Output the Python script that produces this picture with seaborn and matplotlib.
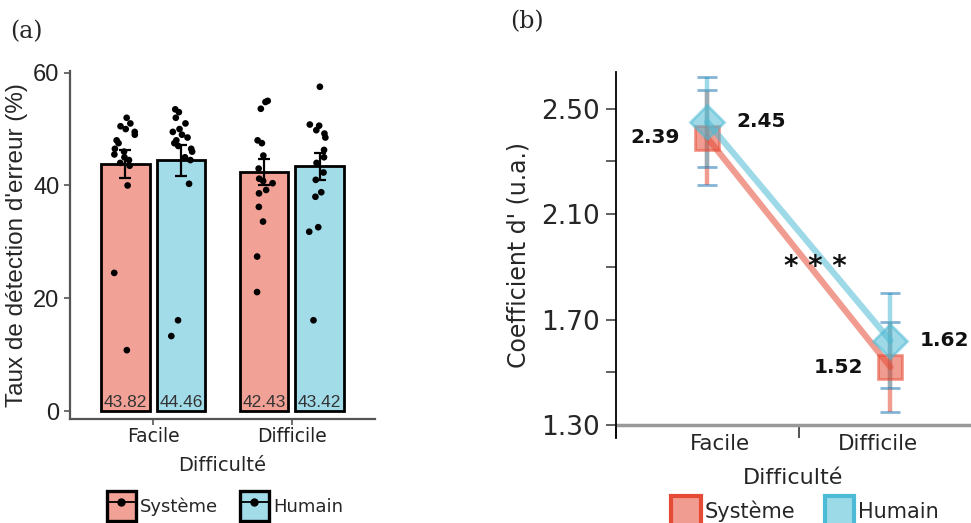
import numpy as np
import pandas as pd
import seaborn as sns
import matplotlib.pyplot as plt
from matplotlib.patches import Patch
from matplotlib.lines import Line2D
from matplotlib.legend_handler import HandlerTuple
from matplotlib.colors import to_rgb

difficultes = ['Facile', 'Difficile']
groupes = ['Système', 'Humain']
couleurs = {'Système': '#E64B35', 'Humain': '#4DBBD5'}

# (a) taux de detection d'erreur (%)
taux_moy_systeme = [43.82, 42.43]
taux_moy_humain = [44.46, 43.42]
taux_se_systeme = [2.5, 2.3]
taux_se_humain = [2.8, 2.4]

pts_facile_systeme = [52.0, 51.0, 50.5, 50.0, 49.5, 49.0, 48.0, 47.5, 46.5, 46.0,
                      45.5, 45.0, 44.5, 44.0, 43.5, 40.0, 24.5, 10.8]
pts_facile_humain = [53.5, 53.0, 52.0, 51.0, 50.0, 49.5, 49.0, 48.5, 48.0, 47.5,
                     47.0, 46.5, 46.0, 45.0, 44.5, 40.3, 16.1, 13.3]
pts_difficile_systeme = [55.0, 54.8, 53.6, 48.0, 47.5, 45.3, 43.0, 41.2, 40.8, 40.4,
                         39.2, 38.6, 36.2, 33.6, 27.4, 21.1]
pts_difficile_humain = [57.5, 50.8, 50.6, 49.8, 49.2, 48.5, 46.3, 45.0, 44.0, 42.3,
                        41.0, 38.8, 38.0, 32.6, 31.8, 16.1]

# (b) coefficient d'
dprime_systeme = [2.39, 1.52]
dprime_humain = [2.45, 1.62]
dprime_se_systeme = [0.18, 0.17]
dprime_se_humain = [0.17, 0.18]


def pale(c, a=0.55):
    r = np.array(to_rgb(c))
    return tuple(a * r + (1 - a))


def main():
  sns.set_style('ticks')
  plt.rcParams['font.family'] = ['DejaVu Sans']

  df_taux = pd.DataFrame({
      'Difficulté': difficultes * 2,
      'Groupe': [groupes[0]] * 2 + [groupes[1]] * 2,
      'taux': taux_moy_systeme + taux_moy_humain,
      'se': taux_se_systeme + taux_se_humain,
  })
  se_par_moy = dict(zip(df_taux['taux'], df_taux['se']))

  pts = {('Facile', 'Système'): pts_facile_systeme,
         ('Facile', 'Humain'): pts_facile_humain,
         ('Difficile', 'Système'): pts_difficile_systeme,
         ('Difficile', 'Humain'): pts_difficile_humain}
  rows = []
  for (d, g), vals in pts.items():
    for v in vals:
      rows.append({'Difficulté': d, 'Groupe': g, 'taux': v})
  df_pts = pd.DataFrame(rows)

  df_d = pd.DataFrame({
      'Difficulté': difficultes * 2,
      'Groupe': [groupes[0]] * 2 + [groupes[1]] * 2,
      'dprime': dprime_systeme + dprime_humain,
      'se': dprime_se_systeme + dprime_se_humain,
  })

  fig = plt.figure(figsize=(9.71, 5.23), dpi=100)
  ax1 = fig.add_axes([0.0721, 0.1989, 0.3141, 0.6654])
  ax2 = fig.add_axes([0.634, 0.1625, 0.366, 0.6998])

  # ---------- (a)
  sns.barplot(data=df_taux, x='Difficulté', y='taux', hue='Groupe',
              order=difficultes, hue_order=groupes,
              palette={g: pale(couleurs[g], 0.52) for g in groupes}, saturation=1,
              edgecolor='black', linewidth=2, gap=0.12, errorbar=None,
              legend=False, ax=ax1)
  for p in ax1.patches:
    xc = p.get_x() + p.get_width() / 2
    h = p.get_height()
    ax1.errorbar(xc, h, yerr=se_par_moy[round(h, 2)], fmt='none', ecolor='black',
                 elinewidth=1.6, capsize=4.5, capthick=1.6, zorder=3)
    ax1.text(xc, 0.2, f'{h:.2f}', ha='center', va='bottom', fontsize=12.5,
             color='#333333', family='Liberation Sans', zorder=4)
  np.random.seed(3)
  sns.stripplot(data=df_pts, x='Difficulté', y='taux', hue='Groupe',
                order=difficultes, hue_order=groupes, dodge=True, jitter=0.17,
                palette={g: 'black' for g in groupes}, size=4.8, linewidth=0,
                legend=False, zorder=5, ax=ax1)

  ax1.set_xlim(-0.6, 1.6)
  ax1.set_ylim(-1.4, 60.3)
  ax1.set_yticks([0, 20, 40, 60])
  for s in ['top', 'right']:
    ax1.spines[s].set_visible(False)
  for s in ['left', 'bottom']:
    ax1.spines[s].set_color('#555555')
    ax1.spines[s].set_linewidth(1.6)
  ax1.tick_params(axis='both', colors='#555555', length=4, width=1.2)
  ax1.tick_params(axis='y', labelsize=17, labelcolor='#222222')
  ax1.tick_params(axis='x', labelsize=13.5, labelcolor='#222222', pad=2)
  for t in ax1.get_yticklabels():
    t.set_family('Liberation Sans')
  ax1.set_ylabel("Taux de détection d'erreur (%)", fontsize=17.5,
                 family='Liberation Sans', labelpad=4)
  ax1.set_xlabel('Difficulté', fontsize=14, labelpad=7)

  h_a = [(Patch(facecolor=pale(couleurs[g], 0.52), edgecolor='black', linewidth=2.4),
          Line2D([], [], color='black', marker='o', ms=5, lw=1.3)) for g in groupes]
  fig.legend(handles=h_a, labels=groupes,
             handler_map={tuple: HandlerTuple(ndivide=1, pad=0)},
             ncol=2, loc='center', bbox_to_anchor=(225 / 971, 1 - 506 / 523),
             frameon=False, fontsize=13, handlelength=1.6, handleheight=2.1,
             handletextpad=0.25, columnspacing=1.2, borderaxespad=0)

  # ---------- (b)
  for g in groupes:
    sub = df_d[df_d['Groupe'] == g]
    ax2.errorbar(sub['Difficulté'], sub['dprime'], yerr=sub['se'], fmt='none',
                 ecolor=couleurs[g], alpha=0.55, elinewidth=3.2, capsize=7,
                 capthick=3.2, zorder=2)
  sns.lineplot(data=df_d, x='Difficulté', y='dprime', hue='Groupe', style='Groupe',
               hue_order=groupes, style_order=groupes,
               palette=couleurs, markers={'Système': 's', 'Humain': 'D'},
               dashes=False, lw=4.5, alpha=0.55, markersize=17, sort=False,
               legend=False, ax=ax2, zorder=3)
  for ln in ax2.lines:
    ln.set_markeredgecolor(ln.get_color())
    ln.set_markeredgewidth(2)

  for g, dx, ha in [('Système', -0.15, 'right'), ('Humain', 0.16, 'left')]:
    sub = df_d[df_d['Groupe'] == g]
    for i, v in enumerate(sub['dprime']):
      ax2.text(i + dx, v, f'{v:.2f}', ha=ha, va='center', fontsize=14.5,
               fontweight='bold', color='#111111')
  ax2.text(0.59, 1.90, '* * *', ha='center', va='center', fontsize=20,
           fontweight='bold', color='#111111')

  ax2.set_xlim(-0.496, 1.44)
  ax2.set_ylim(1.251, 2.639)
  ax2.axhline(1.30, color='#999999', lw=2.5, zorder=1)
  ax2.set_yticks([1.30, 1.50, 1.70, 1.90, 2.10, 2.30, 2.50])
  ax2.set_yticklabels(['1.30', '', '1.70', '', '2.10', '', '2.50'])
  ax2.set_xticks([-0.5, 0.5])
  ax2.set_xticklabels(['', ''])
  ax2.set_xticks([0.07, 0.93], difficultes, minor=True)
  ax2.tick_params(axis='x', which='major', direction='in', length=8, width=1.2,
                  color='#333333')
  ax2.tick_params(axis='x', which='minor', length=0, labelsize=15.5, pad=-3)
  ax2.tick_params(axis='y', labelsize=19, length=7, width=1.2, color='#444444', pad=4)
  for s in ['top', 'right', 'bottom']:
    ax2.spines[s].set_visible(False)
  ax2.spines['left'].set_color('black')
  ax2.spines['left'].set_linewidth(1.3)
  ax2.set_ylabel("Coefficient d' (u.a.)", fontsize=17, labelpad=8)
  ax2.set_xlabel('Difficulté', fontsize=16, labelpad=10)

  h_b = [Patch(facecolor=pale(couleurs[g]), edgecolor=couleurs[g], linewidth=3)
         for g in groupes]
  fig.legend(handles=h_b, labels=groupes, ncol=2, loc='center',
             bbox_to_anchor=(805 / 971, 1 - 511 / 523), frameon=False,
             fontsize=15, handlelength=1.4, handleheight=1.9, handletextpad=0.2,
             columnspacing=1.4, borderaxespad=0)

  fig.text(10 / 971, 1 - 32 / 523, '(a)', fontsize=17, family='DejaVu Serif',
           va='center')
  fig.text(510 / 971, 1 - 22 / 523, '(b)', fontsize=17, family='DejaVu Serif',
           va='center')

  fig.savefig('out.png', dpi=100)


if __name__ == '__main__':
  main()
